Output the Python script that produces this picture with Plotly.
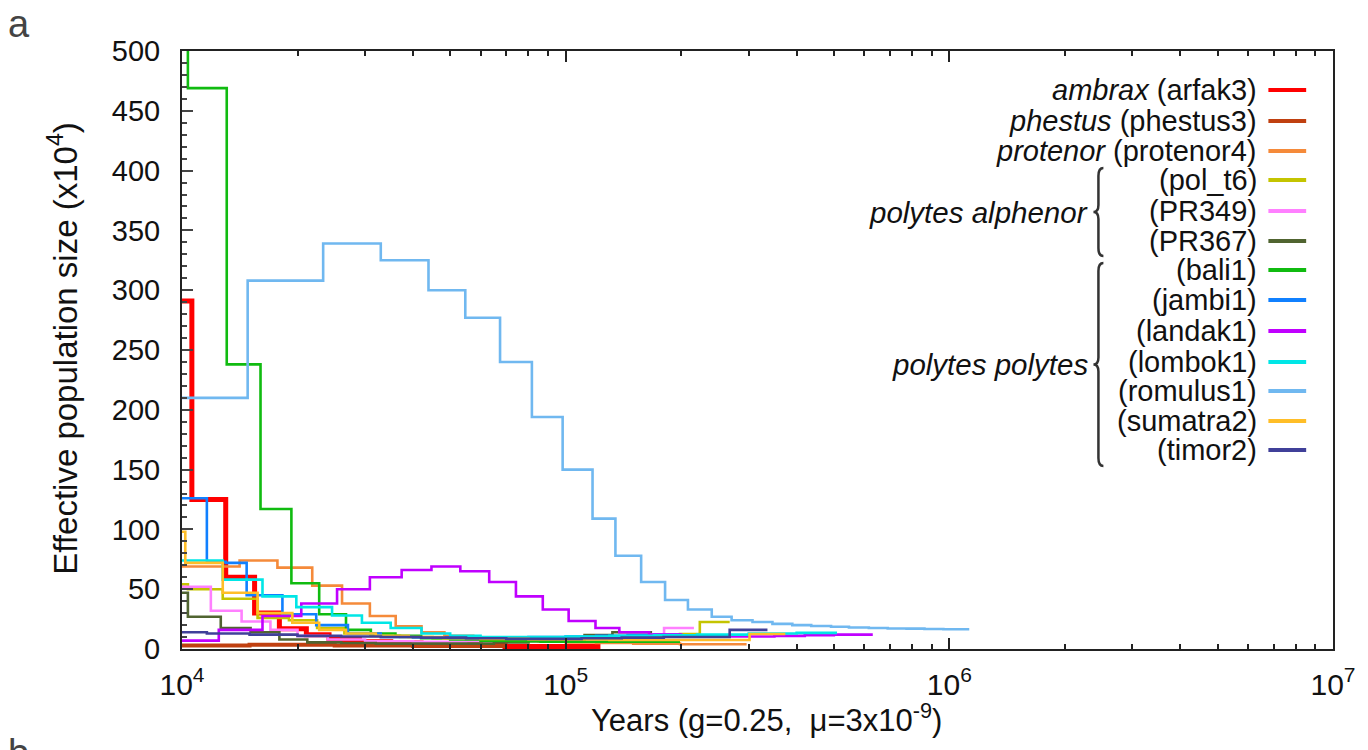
import plotly.graph_objects as go

# ---------------- data: step start times (years) and Ne (x10^4) ----------------
arfak3_t = [1.0e4, 1.061e4, 1.300e4, 1.546e4, 1.794e4, 2.109e4, 2.417e4, 2.9e4, 3.5e4, 4.2e4, 5.0e4, 6.0e4, 6.95e4, 8.5e4, 1.0e5, 1.232e5]
arfak3_ne = [291, 125, 60, 30, 17, 12, 8, 6, 5, 4, 3.5, 3, 2, 2, 2]

phestus3_t = [1.0e4, 1.5e4, 2.5e4, 4.0e4, 5.5e4, 7.0e4]
phestus3_ne = [3, 3.5, 3, 2.5, 2.5]

protenor4_t = [1.0e4, 1.413e4, 1.773e4, 2.185e4, 2.613e4, 3.088e4, 3.606e4, 4.21e4, 4.83e4, 5.741e4, 6.9e4, 8.5e4, 1.0e5, 1.2e5, 1.5e5, 1.986e5, 2.962e5]
protenor4_ne = [69, 74, 68, 53, 38, 27.6, 19, 14, 11, 9, 7.5, 6.5, 5.5, 5, 4.5, 4]

pol_t6_t = [1.0e4, 1.036e4, 1.277e4, 1.574e4, 1.9e4, 2.25e4, 2.65e4, 3.1e4, 3.7e4, 4.5e4, 5.5e4, 7.0e4, 9.0e4, 1.1e5, 1.4e5, 1.7e5, 1.986e5, 2.237e5, 2.676e5]
pol_t6_ne = [54, 50, 42, 26, 24, 17.5, 13, 11, 10, 9, 8.5, 8.5, 9, 9.5, 10, 10.5, 12.5, 22.6]

PR349_t = [1.0e4, 1.189e4, 1.43e4, 1.7e4, 2.0e4, 2.4e4, 3.0e4, 4.0e4, 5.5e4, 8.0e4, 1.1e5, 1.45e5, 1.805e5, 2.159e5]
PR349_ne = [52, 32, 23, 16, 11, 8, 6.5, 6, 6.5, 7, 7.5, 8, 17.5]

PR367_t = [1.0e4, 1.036e4, 1.262e4, 1.509e4, 1.794e4, 2.121e4, 2.6e4, 3.2e4, 4.0e4, 5.0e4, 6.5e4, 8.0e4, 9.5e4, 1.12e5, 1.324e5, 1.68e5]
PR367_ne = [47, 27, 17.5, 14, 8, 5.5, 5, 4.5, 4.5, 4.5, 5.5, 6.5, 7.5, 11.7, 14]

bali1_t = [1.0e4, 1.036e4, 1.308e4, 1.602e4, 1.928e4, 2.278e4, 2.676e4, 3.106e4, 3.6e4, 4.2e4, 5.0e4, 6.0e4, 7.2e4, 8.6e4, 1.05e5, 1.3e5, 1.6e5, 1.986e5]
bali1_ne = [520, 469, 238, 117, 55, 29, 16, 13, 11, 9, 8, 7, 6.5, 6, 6, 6, 6]

jambi1_t = [1.0e4, 1.161e4, 1.3e4, 1.474e4, 1.827e4, 2.238e4, 2.707e4, 3.297e4, 4.0e4, 5.0e4, 6.5e4, 8.0e4, 1.0e5, 1.2e5, 1.45e5, 1.7e5, 2.0e5]
jambi1_ne = [126, 73, 72, 45, 29, 20, 13, 10, 9.5, 9, 9.5, 10, 10.5, 11, 11.7, 12]

landak1_t = [1.0e4, 1.247e4, 1.621e4, 2.046e4, 2.536e4, 3.088e4, 3.737e4, 4.469e4, 5.314e4, 6.32e4, 7.42e4, 8.717e4, 1.018e5, 1.196e5, 1.38e5, 1.65e5, 2.0e5, 2.5e5, 3.0e5, 3.5e5, 4.2e5, 5.0e5, 6.316e5]
landak1_ne = [7, 16, 27.6, 38, 50, 60, 66, 69, 65, 56, 44, 33, 23.4, 17.5, 14, 12, 11, 10.5, 10.5, 11, 11.5, 12]

lombok1_t = [1.0e4, 1.277e4, 1.621e4, 1.986e4, 2.461e4, 2.944e4, 3.499e4, 4.21e4, 5.0e4, 6.0e4, 8.0e4, 1.0e5, 1.3e5, 1.7e5, 2.2e5, 3.0e5, 4.0e5, 5.096e5]
lombok1_ne = [74, 58, 44, 35, 28, 22, 17.5, 13, 11, 10, 10, 10.5, 11, 11.5, 12, 13, 13.5]

romulus1_t = [1.0e4, 1.483e4, 2.333e4, 3.297e4, 4.39e4, 5.475e4, 6.745e4, 8.165e4, 9.82e4, 1.175e5, 1.348e5, 1.573e5, 1.816e5, 2.083e5, 2.403e5, 2.707e5, 3.069e5, 3.459e5, 3.897e5, 4.365e5, 4.917e5, 5.475e5, 6.168e5, 6.909e5, 7.737e5, 8.613e5, 9.649e5, 1.127e6]
romulus1_ne = [210, 308, 339, 325, 300, 277, 240, 194, 150, 109, 78, 56, 41, 33, 27, 24, 22.6, 21, 20, 19.2, 18.6, 18, 17.5, 17.2, 17, 16.7, 16.5]

sumatra2_t = [1.0e4, 1.02e4, 1.277e4, 1.574e4, 1.939e4, 2.278e4, 2.676e4, 3.2e4, 3.9e4, 4.8e4, 6.0e4, 8.0e4, 1.0e5, 1.3e5, 1.986e5, 3.015e5, 3.737e5]
sumatra2_ne = [98, 72, 47, 30, 22, 16, 13, 11, 10, 9, 8.5, 8, 8, 7.5, 7.5, 12.5]

timor2_t = [1.0e4, 1.161e4, 1.5e4, 2.0e4, 2.6e4, 3.3e4, 4.2e4, 5.5e4, 7.0e4, 9.0e4, 1.1e5, 1.4e5, 1.8e5, 2.305e5, 2.676e5, 3.357e5]
timor2_ne = [14, 13, 12, 11, 10.5, 10, 9.5, 9, 8.5, 8.5, 9, 9.5, 10, 10, 16]

# legend labels
species_labels = ["<i>ambrax</i> (arfak3)", "<i>phestus</i> (phestus3)", "<i>protenor</i> (protenor4)",
                  "(pol_t6)", "(PR349)", "(PR367)", "(bali1)", "(jambi1)", "(landak1)",
                  "(lombok1)", "(romulus1)", "(sumatra2)", "(timor2)"]
group_labels = ["polytes alphenor", "polytes polytes"]
x_tick_vals = [1e4, 1e5, 1e6, 1e7]
x_tick_text = ["10<sup>4</sup>", "10<sup>5</sup>", "10<sup>6</sup>", "10<sup>7</sup>"]

series = [
    (arfak3_t, arfak3_ne, "#FF0000", 5),
    (phestus3_t, phestus3_ne, "#C04010", 4),
    (protenor4_t, protenor4_ne, "#F58A3A", 2.6),
    (pol_t6_t, pol_t6_ne, "#C4C400", 2.6),
    (PR349_t, PR349_ne, "#FF80FF", 2.6),
    (PR367_t, PR367_ne, "#506430", 2.6),
    (bali1_t, bali1_ne, "#10BB10", 2.6),
    (jambi1_t, jambi1_ne, "#1080FF", 2.6),
    (landak1_t, landak1_ne, "#C000FF", 2.6),
    (lombok1_t, lombok1_ne, "#00E6E6", 2.6),
    (romulus1_t, romulus1_ne, "#70B8F0", 2.6),
    (sumatra2_t, sumatra2_ne, "#FFBE28", 2.6),
    (timor2_t, timor2_ne, "#404099", 2.6),
]

FONT = "Liberation Sans, Arial, Helvetica, sans-serif"
W, H = 1368, 750
L, R, T, B = 182, 1340, 51, 649   # plot area in pixels


def px(x):
    return (x - L) / (R - L)


def py(y):
    return (B - y) / (B - T)


fig = go.Figure()
for t, ne, color, width in series:
    fig.add_trace(go.Scatter(
        x=t, y=list(ne) + [ne[-1]], mode="lines", line=dict(color=color, width=width, shape="hv"),
        showlegend=False, hoverinfo="skip"))

annotations = []
shapes = []

# custom legend (text right-aligned, sample line to the right)
row_y = [90, 121, 151, 180, 211, 241, 270, 300, 331, 362, 391, 421, 450]
for (t, ne, color, width), label, yy in zip(series, species_labels, row_y):
    annotations.append(dict(x=px(1266), y=py(yy), xref="paper", yref="paper", text=label,
                            showarrow=False, xanchor="right", yanchor="middle",
                            font=dict(family=FONT, size=29, color="#111")))
    shapes.append(dict(type="line", xref="paper", yref="paper", x0=px(1275), x1=px(1313),
                       y0=py(yy), y1=py(yy), line=dict(color=color, width=4)))


def brace(xt, yt, yb):
    xs, xe = xt + 5, xt + 10
    ym = (yt + yb) / 2
    pts = [("M", xe, yt), ("Q", xs, yt), ("", xs, yt + 8), ("L", xs, ym - 7), ("Q", xs, ym), ("", xt, ym),
           ("Q", xs, ym), ("", xs, ym + 7), ("L", xs, yb - 8), ("Q", xs, yb), ("", xe, yb)]
    return " ".join(f"{c} {px(a):.5f},{py(b):.5f}" if c else f"{px(a):.5f},{py(b):.5f}" for c, a, b in pts)


for (yt, yb), glabel in zip([(168, 256), (263, 466)], group_labels):
    shapes.append(dict(type="path", xref="paper", yref="paper", path=brace(1099, yt, yb),
                       line=dict(color="#333", width=2.5)))
    annotations.append(dict(x=px(1096), y=py((yt + yb) / 2), xref="paper", yref="paper",
                            text=f"<i>{glabel}</i>", showarrow=False, xanchor="right", yanchor="middle",
                            font=dict(family=FONT, size=29.5, color="#111")))

# axis titles and panel letters
annotations.append(dict(x=(770 - L) / (R - L), y=py(718), xref="paper", yref="paper",
                        text="Years (g=0.25,&nbsp; μ=3x10<sup>-9</sup>)", showarrow=False,
                        xanchor="center", yanchor="middle", font=dict(family=FONT, size=31, color="#111")))
annotations.append(dict(x=px(62), y=py(348), xref="paper", yref="paper",
                        text="Effective population size (x10<sup>4</sup>)", showarrow=False, textangle=-90,
                        xanchor="center", yanchor="middle", font=dict(family=FONT, size=33, color="#111")))
annotations.append(dict(x=px(18), y=py(24), xref="paper", yref="paper", text="a", showarrow=False,
                        xanchor="center", yanchor="middle", font=dict(family=FONT, size=38, color="#444")))
annotations.append(dict(x=px(18), y=py(730), xref="paper", yref="paper", text="b", showarrow=False,
                        xanchor="center", yanchor="top", font=dict(family=FONT, size=38, color="#444")))

minor_x = [k * 10 ** d for d in (4, 5, 6) for k in range(2, 10)]

fig.update_layout(
    width=W, height=H, margin=dict(l=L, r=W - R, t=T, b=H - B),
    paper_bgcolor="white", plot_bgcolor="white",
    font=dict(family=FONT, color="#111"),
    annotations=annotations, shapes=shapes,
    xaxis=dict(type="log", range=[4, 7], tickmode="array", tickvals=x_tick_vals, ticktext=x_tick_text,
               ticks="inside", ticklen=11, tickwidth=1.5, tickcolor="#222",
               minor=dict(tickmode="array", tickvals=minor_x, ticks="inside", ticklen=5, tickwidth=1.5,
                          tickcolor="#222", showgrid=False),
               showline=True, linecolor="#222", linewidth=2, mirror="ticks", showgrid=False, zeroline=False,
               tickfont=dict(family=FONT, size=30, color="#111"), ticklabelstandoff=8),
    yaxis=dict(range=[0, 500], dtick=50, tick0=0, ticks="inside", ticklen=11, tickwidth=1.5, tickcolor="#444",
               minor=dict(dtick=10, ticks="inside", ticklen=5, tickwidth=1.5, tickcolor="#444", showgrid=False),
               showline=True, linecolor="#222", linewidth=2, mirror=True, showgrid=False, zeroline=False,
               tickfont=dict(family=FONT, size=29, color="#111"), ticklabelstandoff=14),
)

fig.write_html("out.html")
